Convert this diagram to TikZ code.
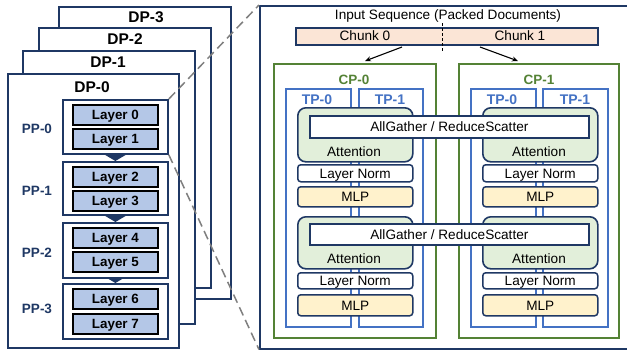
\documentclass[tikz,border=0pt]{standalone}
\usepackage{fontspec}
\setmainfont{Liberation Sans}
\usetikzlibrary{arrows.meta}

\definecolor{navy}{HTML}{1F3864}
\definecolor{layerfill}{HTML}{B4C7E7}
\definecolor{cpgreen}{HTML}{548235}
\definecolor{tpblue}{HTML}{4472C4}
\definecolor{attnfill}{HTML}{E2EFDA}
\definecolor{chunkfill}{HTML}{FBE5D6}
\definecolor{mlpfill}{HTML}{FFF2CC}
\definecolor{dashgray}{HTML}{7F7F7F}

% rectangle node given by its top-left and bottom-right corners
\newcommand{\rectnode}[7]{\node[#1, anchor=north west, inner sep=0pt,
  minimum width={#5-#3}, minimum height={#6-#4}] (#2) at (#3,#4) {#7};}

\begin{document}
\begin{tikzpicture}[x=1pt, y=-1pt,
  regular/.style={font=\fontsize{13.6pt}{16pt}\selectfont},
  dpbox/.style={draw=navy, line width=1.8pt, fill=white},
  dplabel/.style={font=\fontsize{15.5pt}{18pt}\selectfont\bfseries, anchor=base},
  ppbox/.style={draw=navy, line width=1.8pt, fill=white},
  pplabel/.style={font=\fontsize{13.5pt}{16pt}\selectfont\bfseries, text=navy, anchor=base},
  layerbox/.style={draw=black, line width=1.8pt, fill=layerfill,
    font=\fontsize{13.4pt}{16pt}\selectfont\bfseries, text height=9.6pt, text depth=0pt},
  pparrow/.style={draw=navy, line width=4pt, -{Triangle[width=20pt,length=6pt]}},
  zoomline/.style={draw=dashgray, line width=1.5pt, dash pattern=on 9pt off 5pt},
  panel/.style={draw=navy, line width=2pt, fill=white},
  chunkbar/.style={draw=navy, line width=1.8pt, fill=chunkfill},
  chunkarrow/.style={draw=black, line width=1.1pt, -{Stealth[length=6pt,width=5pt]}},
  cpbox/.style={draw=cpgreen, line width=1.6pt},
  cplabel/.style={font=\fontsize{13.5pt}{16pt}\selectfont\bfseries, text=cpgreen, anchor=base},
  tpbox/.style={draw=tpblue, line width=1.6pt},
  tplabel/.style={font=\fontsize{14pt}{16pt}\selectfont\bfseries, text=tpblue, anchor=base},
  attnbox/.style={draw=navy, line width=1.6pt, fill=attnfill, rounded corners=8pt},
  agbar/.style={draw=navy, line width=1.8pt, fill=white, regular, text height=9.7pt, text depth=0pt},
  lnbox/.style={draw=navy, line width=1.5pt, fill=white, rounded corners=3pt,
    regular, text height=9.7pt, text depth=0pt},
  mlpbox/.style={draw=navy, line width=1.5pt, fill=mlpfill, rounded corners=3pt,
    regular, text height=9.7pt, text depth=0pt},
  txt/.style={regular, anchor=base}
]
\useasboundingbox (0,0) rectangle (627,349);
\clip (0,0) rectangle (627,349);

% ---------- data-parallel replicas ----------
\rectnode{dpbox}{dp3}{58}{6}{230}{298}{}
\node[dplabel] (dp3l) at (146,22) {DP-3};
\rectnode{dpbox}{dp2}{38}{27}{210}{287}{}
\node[dplabel] (dp2l) at (125,44) {DP-2};
\rectnode{dpbox}{dp1}{22}{50}{194}{323}{}
\node[dplabel] (dp1l) at (108,67) {DP-1};
\rectnode{dpbox}{dp0}{7}{73}{178}{347}{}
\node[dplabel] (dp0l) at (92,92) {DP-0};

% ---------- pipeline stages ----------
\rectnode{ppbox}{pp0}{62}{99}{167}{153}{}
\rectnode{ppbox}{pp1}{62}{161}{167}{214}{}
\rectnode{ppbox}{pp2}{62}{222}{167}{277}{}
\rectnode{ppbox}{pp3}{62}{283}{167}{338}{}

\node[pplabel] (pp0l) at (37,133) {PP-0};
\node[pplabel] (pp1l) at (37,195) {PP-1};
\node[pplabel] (pp2l) at (37,257) {PP-2};
\node[pplabel] (pp3l) at (37,313) {PP-3};

\rectnode{layerbox}{l0}{72}{104}{157}{124}{Layer 0}
\rectnode{layerbox}{l1}{72}{128}{157}{148}{Layer 1}
\rectnode{layerbox}{l2}{72}{166}{157}{186}{Layer 2}
\rectnode{layerbox}{l3}{72}{190}{157}{210}{Layer 3}
\rectnode{layerbox}{l4}{72}{227}{157}{247}{Layer 4}
\rectnode{layerbox}{l5}{72}{251}{157}{271}{Layer 5}
\rectnode{layerbox}{l6}{72}{288}{157}{308}{Layer 6}
\rectnode{layerbox}{l7}{72}{313}{157}{333}{Layer 7}

\draw[pparrow] (pp0.south) -- (pp1.north);
\draw[pparrow] (pp1.south) -- (pp2.north);
\draw[pparrow] (pp2.south) -- (pp3.north);

% ---------- detail panel ----------
\rectnode{panel}{rp}{259}{5}{660}{347.5}{}
\draw[zoomline] (pp0.north east) -- (rp.north west);
\draw[zoomline] (pp0.south east) -- (rp.south west);

\node[txt] (seq) at (448,19) {Input Sequence (Packed Documents)};
\rectnode{chunkbar}{chunks}{295}{27}{597}{44}{}
\node[txt] (ch0) at (365,40.5) {Chunk 0};
\node[txt] (ch1) at (520,40.5) {Chunk 1};
\coordinate (divtop) at (442,23);
\coordinate (divbot) at (442,52);
\draw[line width=1pt, dash pattern=on 3pt off 2pt] (divtop) -- (divbot);

% context-parallel groups
\rectnode{cpbox}{cp0}{273}{63}{435}{337}{}
\rectnode{cpbox}{cp1}{458}{63}{618}{337}{}
\node[cplabel] (cp0l) at (354,84) {CP-0};
\node[cplabel] (cp1l) at (539,84) {CP-1};

\coordinate (a0s) at (402,47);
\coordinate (a0e) at (365,61);
\coordinate (a1s) at (480,47);
\coordinate (a1e) at (518,61);
\draw[chunkarrow] (a0s) -- (a0e);
\draw[chunkarrow] (a1s) -- (a1e);

% tensor-parallel ranks
\rectnode{tpbox}{tp00}{285}{88}{350}{326}{}
\rectnode{tpbox}{tp01}{358}{88}{422}{326}{}
\rectnode{tpbox}{tp10}{470}{88}{535}{326}{}
\rectnode{tpbox}{tp11}{542}{88}{607}{326}{}
\node[tplabel] (tp00l) at (317,104) {TP-0};
\node[tplabel] (tp01l) at (390,104) {TP-1};
\node[tplabel] (tp10l) at (502,104) {TP-0};
\node[tplabel] (tp11l) at (575,104) {TP-1};

% transformer blocks
\rectnode{attnbox}{at00}{297}{107}{412}{161}{}
\rectnode{attnbox}{at10}{482}{107}{597}{161}{}
\rectnode{agbar}{ag0}{309}{115}{588}{137}{AllGather / ReduceScatter}
\node[txt] (at00l) at (354,156) {Attention};
\node[txt] (at10l) at (539,156) {Attention};
\rectnode{lnbox}{ln00}{297}{164}{412}{181}{Layer Norm}
\rectnode{lnbox}{ln10}{482}{164}{597}{181}{Layer Norm}
\rectnode{mlpbox}{mlp00}{297}{186}{412}{206}{MLP}
\rectnode{mlpbox}{mlp10}{482}{186}{597}{206}{MLP}

\rectnode{attnbox}{at01}{297}{216}{412}{268}{}
\rectnode{attnbox}{at11}{482}{216}{597}{268}{}
\rectnode{agbar}{ag1}{309}{223}{588}{244}{AllGather / ReduceScatter}
\node[txt] (at01l) at (354,263) {Attention};
\node[txt] (at11l) at (539,263) {Attention};
\rectnode{lnbox}{ln01}{297}{272}{412}{288}{Layer Norm}
\rectnode{lnbox}{ln11}{482}{272}{597}{288}{Layer Norm}
\rectnode{mlpbox}{mlp01}{297}{294}{412}{315}{MLP}
\rectnode{mlpbox}{mlp11}{482}{294}{597}{315}{MLP}
\end{tikzpicture}
\end{document}
